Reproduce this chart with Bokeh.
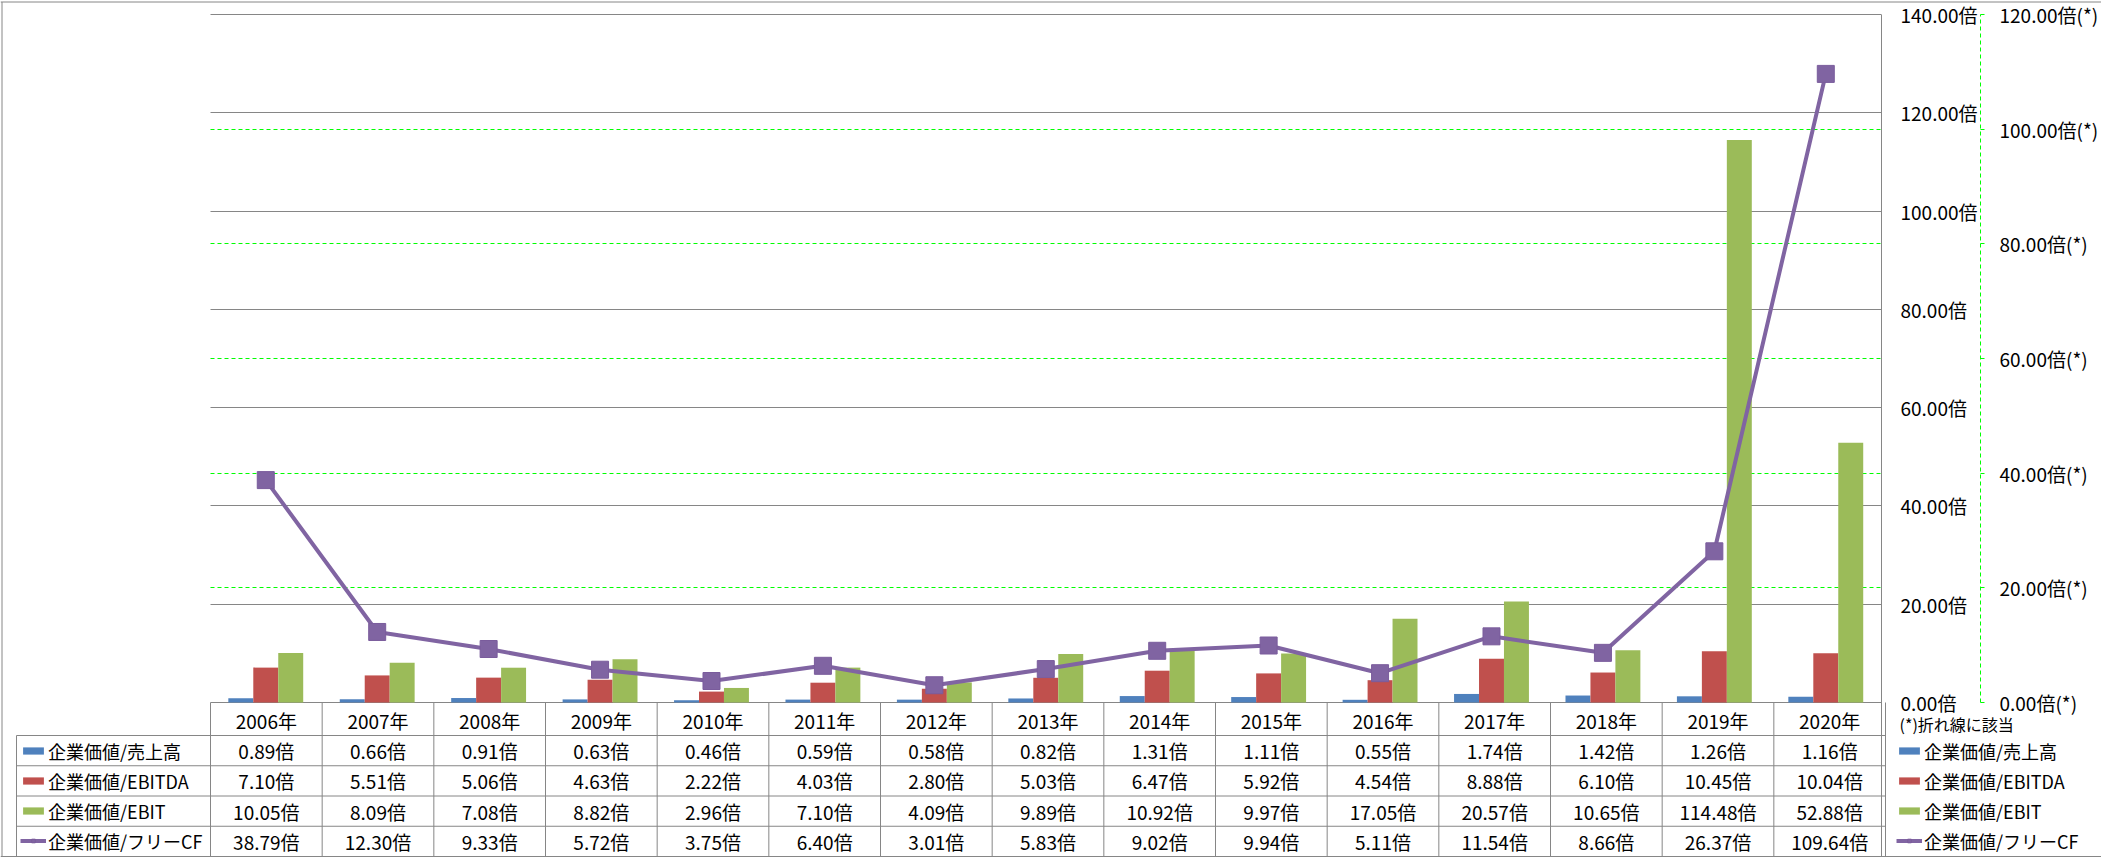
import numpy as np
from bokeh.plotting import figure
from bokeh.layouts import column
from bokeh.models import (Range1d, LinearAxis, FixedTicker, PrintfTickFormatter, Grid,
                          Legend, LegendItem, ColumnDataSource)
from bokeh.transform import dodge
from bokeh.core.properties import value
from bokeh.embed import file_html
from bokeh.resources import INLINE

# ---------------- data ----------------
years = ["2006年", "2007年", "2008年", "2009年", "2010年", "2011年", "2012年", "2013年",
         "2014年", "2015年", "2016年", "2017年", "2018年", "2019年", "2020年"]
ev_sales = [0.89, 0.66, 0.91, 0.63, 0.46, 0.59, 0.58, 0.82, 1.31, 1.11, 0.55, 1.74, 1.42, 1.26, 1.16]
ev_ebitda = [7.10, 5.51, 5.06, 4.63, 2.22, 4.03, 2.80, 5.03, 6.47, 5.92, 4.54, 8.88, 6.10, 10.45, 10.04]
ev_ebit = [10.05, 8.09, 7.08, 8.82, 2.96, 7.10, 4.09, 9.89, 10.92, 9.97, 17.05, 20.57, 10.65, 114.48, 52.88]
ev_fcf = [38.79, 12.30, 9.33, 5.72, 3.75, 6.40, 3.01, 5.83, 9.02, 9.94, 5.11, 11.54, 8.66, 26.37, 109.64]
series_names = ["企業価値/売上高", "企業価値/EBITDA", "企業価値/EBIT", "企業価値/フリーCF"]
primary_ticks = [0, 20, 40, 60, 80, 100, 120, 140]
secondary_ticks = [0, 20, 40, 60, 80, 100, 120]
note_text = "(*)折れ線に該当"

# ---------------- styling / layout ----------------
FONT = "Noto Sans CJK JP"
C_BLUE, C_RED, C_GREEN, C_PURPLE = "#4F81BD", "#C0504D", "#9BBB59", "#8064A2"
C_GRID = "#868686"
C_LIME = "#00FF00"

W, H = 2101, 858
frame_right = 1885
cat_left_px, top_px, zero_px = 210, 14, 702
table_bottom_px = 856
n = len(years)
cat_w = (frame_right - cat_left_px) / n
x_start = -0.5 - cat_left_px / cat_w
x_end = n - 0.5

p1_scale = (zero_px - top_px) / primary_ticks[-1]
p2_scale = (zero_px - top_px) / secondary_ticks[-1]
y1_end = primary_ticks[-1] + top_px / p1_scale
y1_start = -(H - zero_px) / p1_scale
y2_end = secondary_ticks[-1] + top_px / p2_scale
y2_start = -(H - zero_px) / p2_scale

# ---------- layer 1: the chart with its two value axes ----------
p = figure(width=W, height=H, output_backend="svg", toolbar_location=None,
           x_axis_type=None, y_axis_type=None, frame_align=False,
           x_range=Range1d(x_start, x_end), y_range=Range1d(y1_start, y1_end),
           min_border_left=0, min_border_right=W - frame_right,
           min_border_top=0, min_border_bottom=0,
           outline_line_color=None, background_fill_color="white", border_fill_color="white")
p.extra_y_ranges = {"y2": Range1d(y2_start, y2_end)}

idx = list(range(n))
src = ColumnDataSource(dict(x=idx, sales=ev_sales, ebitda=ev_ebitda, ebit=ev_ebit, fcf=ev_fcf))

p.add_layout(Grid(dimension=1, ticker=FixedTicker(ticks=primary_ticks),
                  grid_line_color=C_GRID, grid_line_width=1, cross_bounds=(-0.5, n - 0.5)))
p.add_layout(Grid(dimension=1, y_range_name="y2", ticker=FixedTicker(ticks=secondary_ticks[1:-1]),
                  grid_line_color=C_LIME, grid_line_width=1, grid_line_dash="4 3",
                  cross_bounds=(-0.5, n - 0.5)))

bw = 0.224
bar_style = dict(width=bw, line_color=None)
p.vbar(x=dodge("x", -bw, range=p.x_range), top="sales", source=src, fill_color=C_BLUE, **bar_style)
p.vbar(x=dodge("x", 0, range=p.x_range), top="ebitda", source=src, fill_color=C_RED, **bar_style)
p.vbar(x=dodge("x", bw, range=p.x_range), top="ebit", source=src, fill_color=C_GREEN, **bar_style)

line_style = dict(line_color=C_PURPLE, line_width=4)
pt_style = dict(marker="square", size=17, fill_color=C_PURPLE, line_color="#7A5C9C", line_width=1)
p.line(x="x", y="fcf", source=src, y_range_name="y2", **line_style)
p.scatter(x="x", y="fcf", source=src, y_range_name="y2", **pt_style)

ax1 = LinearAxis(ticker=FixedTicker(ticks=primary_ticks), formatter=PrintfTickFormatter(format="%.2f倍"),
                 bounds=(-(table_bottom_px - zero_px) / p1_scale, primary_ticks[-1]),
                 axis_line_color=C_GRID, major_tick_out=0, major_tick_in=0,
                 minor_tick_out=0, minor_tick_in=0, major_label_standoff=19,
                 major_label_text_font=FONT, major_label_text_font_size="19px",
                 major_label_text_color="#000000")
p.add_layout(ax1, "right")
ax2 = LinearAxis(y_range_name="y2", ticker=FixedTicker(ticks=secondary_ticks),
                 formatter=PrintfTickFormatter(format="%.2f倍(*)"), bounds=(0, secondary_ticks[-1]),
                 axis_line_color=C_LIME, axis_line_dash="4 3", major_tick_out=4, major_tick_in=0,
                 major_tick_line_color=C_LIME, minor_tick_out=0, minor_tick_in=0,
                 major_label_standoff=15, major_label_text_font=FONT,
                 major_label_text_font_size="19px", major_label_text_color="#000000")
p.add_layout(ax2, "right")

# ---------- layer 2 (transparent, laid over layer 1): data table, legends, border ----------
xb_start = -0.5 - cat_left_px / cat_w
xb_end = -0.5 + (W - cat_left_px) / cat_w
t = figure(width=W, height=H, output_backend="svg", toolbar_location=None,
           x_axis_type=None, y_axis_type=None, frame_align=False,
           x_range=Range1d(xb_start, xb_end), y_range=Range1d(H, 0),
           min_border_left=0, min_border_right=0, min_border_top=0, min_border_bottom=0,
           outline_line_color=None, background_fill_color=None, border_fill_color=None,
           styles={"margin-top": f"-{H}px"})

def px_to_x(px):
    return xb_start + px / cat_w

header_bottom = 735
data_rows = 4
rh = (table_bottom_px - header_bottom) / data_rows
row_edges = [header_bottom + k * rh for k in range(data_rows + 1)]
row_mid = [(zero_px + header_bottom) / 2 + 1] + [header_bottom + (k + 0.5) * rh for k in range(data_rows)]
x_border = px_to_x(1.5)
x_tableleft = px_to_x(16)
sep_x = [i - 0.5 for i in range(n + 1)]

# horizontal rules: data rows, bottom edge (full width), chart-area top edge (full width)
hx0 = [x_tableleft] * data_rows + [xb_start, xb_start]
hx1 = [n - 0.5] * data_rows + [xb_end, xb_end]
hy = row_edges + [1.5]
t.segment(x0=hx0, y0=hy, x1=hx1, y1=hy, line_color=C_GRID, line_width=1)
# vertical rules: column separators, row-header left edge, chart-area left edge
vx = sep_x + [x_tableleft, x_border]
vy0 = [zero_px] * (n + 1) + [row_edges[0], 1.5]
vy1 = [table_bottom_px] * (n + 3)
t.segment(x0=vx, y0=vy0, x1=vx, y1=vy1, line_color=C_GRID, line_width=1)

tx, ty, tt = [], [], []
for i in idx:
    tx.append(i); ty.append(row_mid[0]); tt.append(years[i])
    for k, ser in enumerate([ev_sales, ev_ebitda, ev_ebit, ev_fcf]):
        tx.append(i); ty.append(row_mid[k + 1]); tt.append(f"{ser[i]:.2f}倍")
t.text(x=tx, y=ty, text=tt, text_font=value(FONT), text_font_size="19px",
       text_align="center", text_baseline="middle", text_color="#000000")

# note under the right-hand axes
t.text(x=[px_to_x(1899)], y=[723], text=[note_text], text_font=value(FONT), text_font_size="16px",
       text_align="left", text_baseline="middle", text_color="#000000")

# legend swatches: renderers of this layer with the same styles and no visible data
nodata = ColumnDataSource(dict(x=np.array([np.nan]), y=np.array([np.nan])))
l_sales = t.vbar(x="x", top="y", source=nodata, fill_color=C_BLUE, **bar_style)
l_ebitda = t.vbar(x="x", top="y", source=nodata, fill_color=C_RED, **bar_style)
l_ebit = t.vbar(x="x", top="y", source=nodata, fill_color=C_GREEN, **bar_style)
l_line = t.line(x="x", y="y", source=nodata, **line_style)
l_pts = t.scatter(x="x", y="y", source=nodata, **pt_style)

def make_items():
    return [LegendItem(label=series_names[0], renderers=[l_sales]),
            LegendItem(label=series_names[1], renderers=[l_ebitda]),
            LegendItem(label=series_names[2], renderers=[l_ebit]),
            LegendItem(label=series_names[3], renderers=[l_line, l_pts])]

common = dict(orientation="vertical", glyph_width=26, glyph_height=9, label_standoff=2,
              spacing=3, label_height=27, padding=0, margin=0, border_line_color=None,
              background_fill_alpha=0, label_text_font=FONT, label_text_font_size="18px",
              label_text_color="#000000")
leg_y = 4
t.add_layout(Legend(items=make_items(), location=(20, leg_y), **common))
t.add_layout(Legend(items=make_items(), location=(1896, leg_y), **common))

layout = column(p, t, spacing=0)
open("out.html", "w").write(file_html(layout, INLINE))
